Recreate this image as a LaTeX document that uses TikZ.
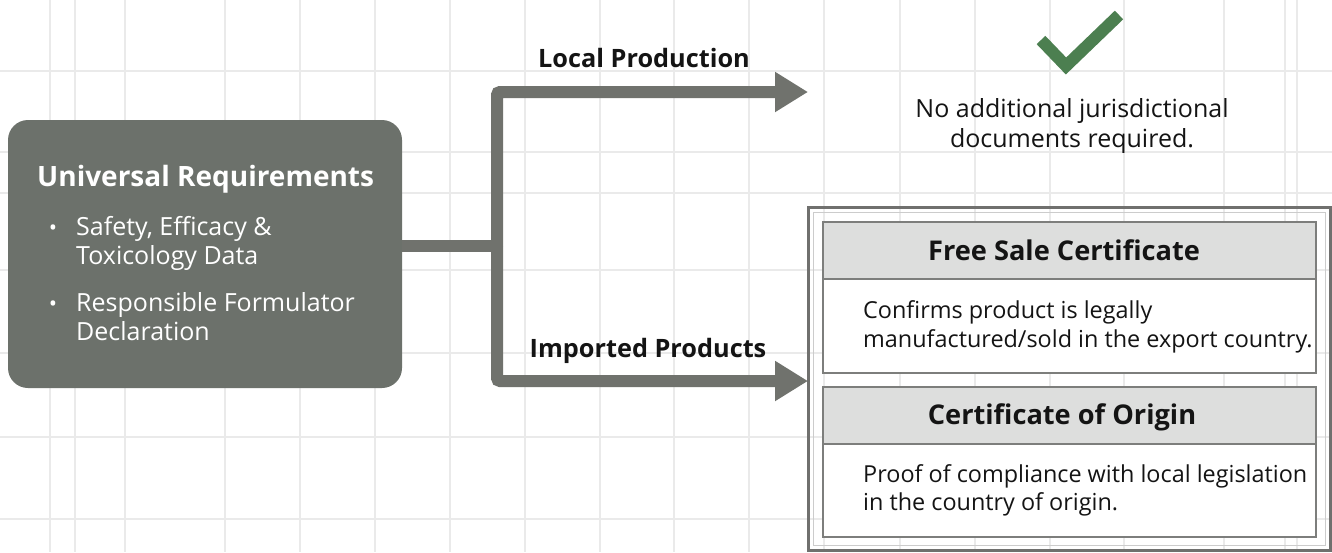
\documentclass[tikz,border=0pt]{standalone}
\usepackage{fontspec}
\setmainfont{Open Sans}
\usetikzlibrary{arrows.meta}
\definecolor{boxgray}{RGB}{108,113,107}
\definecolor{linegray}{RGB}{112,114,109}
\definecolor{gridgray}{RGB}{234,234,234}
\definecolor{checkgreen}{RGB}{76,127,80}
\definecolor{headgray}{RGB}{221,222,221}
\definecolor{framegray}{RGB}{112,112,110}
\definecolor{cardline}{RGB}{125,126,124}
\definecolor{textdark}{RGB}{20,20,20}
\tikzset{
  grid line/.style={gridgray, line width=1.5pt},
  flow/.style={linegray, line width=12pt, rounded corners=3pt, -{Triangle[length=33pt,width=38pt]}},
  branchlabel/.style={font=\fontsize{25.3}{30}\selectfont\bfseries, text=textdark, inner sep=0pt, anchor=base},
  bodytext/.style={font=\fontsize{23.4}{29}\selectfont, text=textdark, inner sep=0pt, align=left},
  cardhead/.style={draw=cardline, line width=1.5pt, fill=headgray},
  cardbody/.style={draw=cardline, line width=1.5pt, fill=white},
  cardtitle/.style={font=\fontsize{27.2}{32}\selectfont\bfseries, text=textdark, inner sep=0pt, anchor=base},
  whitetext/.style={text=white, inner sep=0pt, align=left},
}
\begin{document}
\begin{tikzpicture}[x=1pt,y=-1pt]
\useasboundingbox (0,0) rectangle (1332,552);
\fill[white] (0,0) rectangle (1332,552);
% grid
\foreach \gx in {50,75,125,225,300,375,450,525,600,674,749,824,900,975,1050,1124,1224,1285,1297}
  \draw[grid line] (\gx,0) -- (\gx,552);
\foreach \gy in {71,152,193,270,353,437,519}
  \draw[grid line] (0,\gy) -- (1332,\gy);

% left box
\fill[boxgray, rounded corners=20pt] (8,120) rectangle (402,388);
\coordinate (boxE) at (402,246);
\node[whitetext, anchor=base west, font=\fontsize{28}{34}\selectfont\bfseries] (title) at (37,186) {Universal Requirements};
\node[whitetext, anchor=base, font=\fontsize{22}{29}\selectfont] (b1) at (53,235) {•};
\node[whitetext, anchor=base west, font=\fontsize{25}{29}\selectfont] (i1) at (76,264) {Safety, Efficacy \&\\Toxicology Data};
\node[whitetext, anchor=base, font=\fontsize{22}{29}\selectfont] (b2) at (53,311) {•};
\node[whitetext, anchor=base west, font=\fontsize{25}{29}\selectfont] (i2) at (76,340) {Responsible Formulator\\Declaration};

% connectors
\coordinate (split) at (497,246);
\coordinate (localTip) at (808,92);
\coordinate (importTip) at (808,381);
\draw[linegray, line width=12pt] (boxE) -- ([xshift=6pt]split);
\draw[flow] (split) |- (localTip);
\draw[flow] (split) |- (importTip);
\node[branchlabel] (lp) at (644,67) {Local Production};
\node[branchlabel] (ip) at (648,357) {Imported Products};

% check mark and text
\draw[checkgreen, line width=12pt] (1041,40) -- (1066,66) -- (1119,15);
\node[bodytext, align=center, anchor=base, font=\fontsize{25}{30}\selectfont] (noreq) at (1072,147) {No additional jurisdictional\\documents required.};

% right frame
\draw[framegray, line width=3pt] (808,207) rectangle (1330,550);
\draw[gray!40, line width=1pt] (813,212) rectangle (1325,545);
% card 1
\draw[cardbody] (823,222) rectangle (1316,373);
\draw[cardhead] (823,222) rectangle (1316,279);
\node[cardtitle] (fsc) at (1064,260) {Free Sale Certificate};
\node[bodytext, anchor=base west] (fscb) at (863,347) {Confirms product is legally\\manufactured/sold in the export country.};
% card 2
\draw[cardbody] (823,387) rectangle (1316,537);
\draw[cardhead] (823,387) rectangle (1316,444);
\node[cardtitle] (coo) at (1062,424) {Certificate of Origin};
\node[bodytext, anchor=base west, font=\fontsize{23.4}{27.5}\selectfont] (coob) at (863,510) {Proof of compliance with local legislation\\in the country of origin.};
\end{tikzpicture}
\end{document}
